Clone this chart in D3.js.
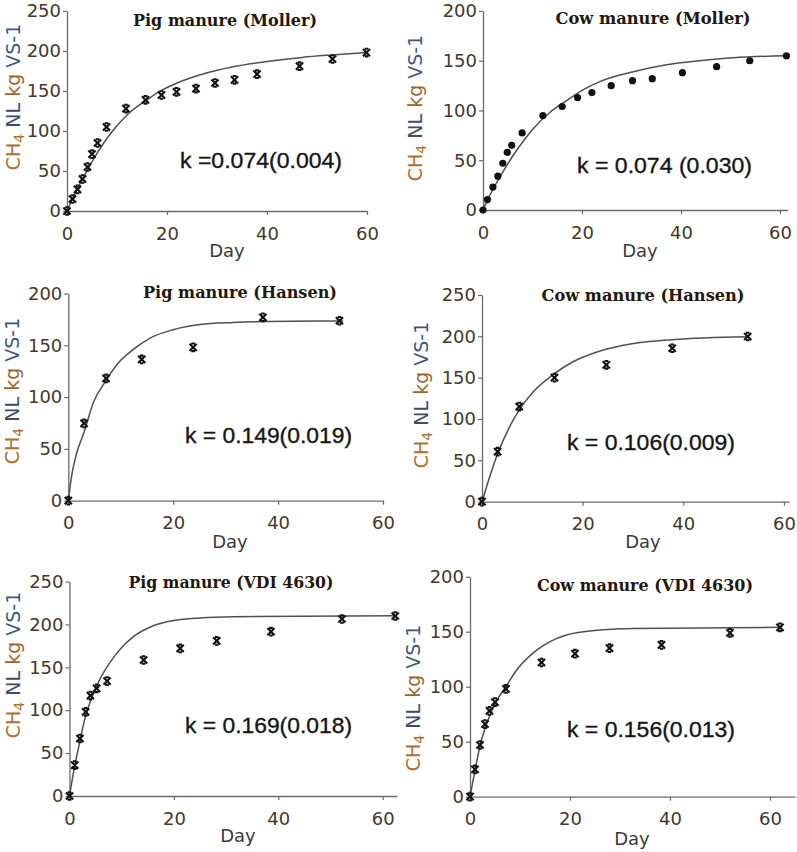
<!DOCTYPE html>
<html>
<head>
<meta charset="utf-8">
<script src="https://cdn.jsdelivr.net/npm/d3@7"></script>
<style>
  html, body { margin: 0; padding: 0; background: #fff; }
  svg { display: block; }
</style>
</head>
<body>
<svg id="chart" width="797" height="852"></svg>
<script>
// ---------------- DATA ----------------
const panelTitles = ["Pig manure (Moller)", "Cow manure (Moller)", "Pig manure (Hansen)",
                     "Cow manure (Hansen)", "Pig manure (VDI 4630)", "Cow manure (VDI 4630)"];
const kLabels = ["k =0.074(0.004)", "k = 0.074 (0.030)", "k = 0.149(0.019)",
                 "k = 0.106(0.009)", "k = 0.169(0.018)", "k = 0.156(0.013)"];
const xTickValues = [0, 20, 40, 60];
const yTicks250 = [0, 50, 100, 150, 200, 250];
const yTicks200 = [0, 50, 100, 150, 200];

// Pig manure (Moller)
const pigMollerDay = [0, 1.1, 2.1, 3.1, 4.1, 5.0, 6.1, 7.9, 11.8, 15.7, 18.9, 21.9, 25.8, 29.6, 33.5, 38, 46.5, 53.1, 59.9];
const pigMollerCH4 = [0, 15, 27, 40, 55, 71, 85, 105, 128, 139, 145, 149, 153, 160, 164, 171, 181, 190, 198];
const pigMollerFitDay = [0, 1, 3, 6, 8, 12, 16, 19, 22, 27, 33, 40, 47, 53, 60];
const pigMollerFitCH4 = [0, 14, 39, 72, 91, 120, 139, 151, 160, 171, 180, 187, 192, 195, 198];

// Cow manure (Moller)
const cowMollerDay = [0, 0.9, 2.0, 3.0, 4.0, 4.9, 5.8, 7.9, 12.1, 16.0, 19.1, 22.0, 25.9, 30.2, 34.2, 40.3, 47.2, 53.9, 61.3];
const cowMollerCH4 = [0, 10.5, 23, 34, 47, 58, 65, 77.5, 95, 104, 113, 118, 125, 130, 132, 138, 144, 150, 155];
const cowMollerFitDay = [0, 1, 3.4, 6.8, 10.2, 13.5, 16.9, 20.3, 23.6, 30.4, 37.1, 43.8, 50.6, 61.3];
const cowMollerFitCH4 = [0, 11, 33, 60, 82, 98, 110, 121, 129, 139, 146, 150, 153, 155];

// Pig manure (Hansen)
const pigHansenDay = [0, 3.0, 7.2, 14.0, 23.8, 37.1, 51.7];
const pigHansenCH4 = [0, 74.6, 118, 136.4, 148, 177, 173.7];
const pigHansenFitDay = [0, 0.6, 1.6, 3.0, 4.8, 7.2, 9.2, 12.4, 15.6, 20, 25.1, 31.4, 37.8, 52.4];
const pigHansenFitCH4 = [0, 23, 46, 66, 95, 116, 131, 146, 157, 165, 170, 172, 173, 173.5];

// Cow manure (Hansen)
const cowHansenDay = [0, 3.1, 7.4, 14.4, 24.7, 37.8, 52.8];
const cowHansenCH4 = [0, 60.5, 115, 150, 165.5, 185.6, 199.8];
const cowHansenFitDay = [0, 1, 3.1, 5.6, 7.4, 10.2, 14.4, 18, 23.3, 29.8, 37.8, 52.8];
const cowHansenFitCH4 = [0, 20, 58, 92, 111, 133, 155, 169, 182, 191, 196, 199.5];

// Pig manure (VDI 4630)
const pigVdiDay = [0, 1.0, 2.0, 3.1, 4.0, 5.2, 7.2, 14.2, 21.2, 28.2, 38.6, 52.2, 62.4];
const pigVdiCH4 = [0, 36, 67, 98, 117, 125.5, 134, 158.5, 172, 180.7, 191.5, 206.3, 209.8];
const pigVdiFitDay = [0, 1, 2, 3.1, 4.3, 5.9, 7.8, 9.7, 12.3, 15.5, 18.7, 25, 31.4, 62.4];
const pigVdiFitCH4 = [0, 35, 64, 94, 115, 137, 156, 171, 186, 197, 203, 207.5, 209, 210];

// Cow manure (VDI 4630)
const cowVdiDay = [0, 1.0, 2.0, 3.0, 3.9, 5.0, 7.2, 14.3, 21, 27.9, 38.3, 52, 62];
const cowVdiCH4 = [0, 24.8, 47, 66, 78, 86, 98, 122, 130, 135, 138, 149, 154];
const cowVdiFitDay = [0, 1, 2, 3.3, 5.3, 7.3, 9.3, 12.7, 16, 19.3, 26, 32.7, 62];
const cowVdiFitCH4 = [0, 24, 46, 66, 87, 101, 115, 131, 141, 147, 151.5, 153, 154];

// ---------------- LAYOUT ----------------
const panels = [
  { title: panelTitles[0], k: kLabels[0], day: pigMollerDay, ch4: pigMollerCH4, fd: pigMollerFitDay, fc: pigMollerFitCH4,
    xd: [0, 60], xr: [67, 367], yd: [0, 250], yr: [211, 11], yt: yTicks250, marker: "x",
    tx: 225, tw: 184, ty: 26, kx: 180, kw: 162, ky: 168, dx: 227, dy: 257, lx: 20, ly: 97 },
  { title: panelTitles[1], k: kLabels[1], day: cowMollerDay, ch4: cowMollerCH4, fd: cowMollerFitDay, fc: cowMollerFitCH4,
    xd: [0, 61.5], xr: [483, 787.4], yd: [0, 200], yr: [210, 11], yt: yTicks200, marker: "dot",
    tx: 653, tw: 195, ty: 24, kx: 577, kw: 175, ky: 173, dx: 640, dy: 257, lx: 422, ly: 108 },
  { title: panelTitles[2], k: kLabels[2], day: pigHansenDay, ch4: pigHansenCH4, fd: pigHansenFitDay, fc: pigHansenFitCH4,
    xd: [0, 60], xr: [68.3, 383], yd: [0, 200], yr: [500.7, 293.5], yt: yTicks200, marker: "x",
    tx: 240, tw: 194, ty: 298, kx: 185, kw: 167, ky: 443, dx: 230, dy: 548, lx: 19, ly: 391 },
  { title: panelTitles[3], k: kLabels[3], day: cowHansenDay, ch4: cowHansenCH4, fd: cowHansenFitDay, fc: cowHansenFitCH4,
    xd: [0, 61], xr: [482, 789], yd: [0, 250], yr: [501.7, 295], yt: yTicks250, marker: "x",
    tx: 643, tw: 203, ty: 301, kx: 567, kw: 168, ky: 450, dx: 643, dy: 548, lx: 428, ly: 395 },
  { title: panelTitles[4], k: kLabels[4], day: pigVdiDay, ch4: pigVdiCH4, fd: pigVdiFitDay, fc: pigVdiFitCH4,
    xd: [0, 62.7], xr: [69.5, 396.8], yd: [0, 250], yr: [796, 581.5], yt: yTicks250, marker: "x",
    tx: 231, tw: 205, ty: 588, kx: 185, kw: 167, ky: 733, dx: 238, dy: 842, lx: 20, ly: 665 },
  { title: panelTitles[5], k: kLabels[5], day: cowVdiDay, ch4: cowVdiCH4, fd: cowVdiFitDay, fc: cowVdiFitCH4,
    xd: [0, 65], xr: [470, 795], yd: [0, 200], yr: [796.7, 576.7], yt: yTicks200, marker: "x",
    tx: 645, tw: 216, ty: 591, kx: 567, kw: 168, ky: 737, dx: 632, dy: 845, lx: 420, ly: 698 }
];

const svg = d3.select("#chart");
const tickColor = "#43382b";
const axisColor = "#6a6a6a";
const xMarkPath = "M-3.6,-3.6L3.6,3.6M-3.6,3.6L3.6,-3.6M-1.8,-3.8L1.8,-3.8M-1.8,3.8L1.8,3.8";

panels.forEach(p => {
  const g = svg.append("g");
  const x = d3.scaleLinear().domain(p.xd).range(p.xr);
  const y = d3.scaleLinear().domain(p.yd).range(p.yr);

  // axes
  const yAxis = d3.axisLeft(y).tickValues(p.yt).tickSize(4).tickSizeOuter(0).tickPadding(2);
  const xAxis = d3.axisBottom(x).tickValues(xTickValues).tickSize(4).tickSizeOuter(0).tickPadding(12);

  const gy = g.append("g").attr("transform", `translate(${p.xr[0]},0)`).call(yAxis);
  const gx = g.append("g").attr("transform", `translate(0,${p.yr[0]})`).call(xAxis);
  [gx, gy].forEach(a => {
    a.select(".domain").attr("stroke", axisColor).attr("stroke-width", 1.3);
    a.selectAll(".tick line").attr("stroke", axisColor).attr("stroke-width", 1.2);
    a.selectAll(".tick text")
      .attr("fill", tickColor)
      .style("font-family", "'DejaVu Sans', Verdana, sans-serif")
      .style("font-size", "18px");
  });

  // fitted curve
  const fit = p.fd.map((d, i) => [d, p.fc[i]]);
  g.append("path")
    .datum(fit)
    .attr("fill", "none")
    .attr("stroke", "#505050")
    .attr("stroke-width", 1.5)
    .attr("d", d3.line().x(d => x(d[0])).y(d => y(d[1])).curve(d3.curveMonotoneX));

  // observed points
  const pts = p.day.map((d, i) => [d, p.ch4[i]]);
  if (p.marker === "dot") {
    g.selectAll("circle.pt").data(pts).join("circle")
      .attr("class", "pt")
      .attr("cx", d => x(d[0])).attr("cy", d => y(d[1]))
      .attr("r", 3.6).attr("fill", "#111");
  } else {
    g.selectAll("path.pt").data(pts).join("path")
      .attr("class", "pt")
      .attr("transform", d => `translate(${x(d[0])},${y(d[1])})`)
      .attr("d", xMarkPath)
      .attr("fill", "none").attr("stroke", "#111").attr("stroke-width", 2.1);
  }

  // title
  g.append("text")
    .attr("x", p.tx).attr("y", p.ty)
    .attr("text-anchor", "middle")
    .attr("textLength", p.tw).attr("lengthAdjust", "spacingAndGlyphs")
    .attr("fill", "#22170c")
    .style("font-family", "'DejaVu Serif', 'Liberation Serif', serif")
    .style("font-weight", "bold")
    .style("font-size", "16.5px")
    .text(p.title);

  // k annotation
  g.append("text")
    .attr("x", p.kx).attr("y", p.ky)
    .attr("textLength", p.kw).attr("lengthAdjust", "spacingAndGlyphs")
    .attr("fill", "#151515")
    .attr("stroke", "#151515").attr("stroke-width", 0.35)
    .style("font-family", "'Liberation Sans', Arial, sans-serif")
    .style("font-size", "22px")
    .text(p.k);

  // x label
  g.append("text")
    .attr("x", p.dx).attr("y", p.dy)
    .attr("text-anchor", "middle")
    .attr("fill", "#3a3a3a")
    .style("font-family", "'DejaVu Sans', Verdana, sans-serif")
    .style("font-size", "18px")
    .text("Day");

  // y label
  const yl = g.append("text")
    .attr("transform", `translate(${p.lx},${p.ly}) rotate(-90)`)
    .attr("text-anchor", "middle")
    .style("font-family", "'DejaVu Sans', Verdana, sans-serif")
    .style("font-size", "19px");
  yl.append("tspan").attr("fill", "#b0702e").text("CH");
  yl.append("tspan").attr("fill", "#b0702e").attr("dy", 4).style("font-size", "14px").text("4");
  yl.append("tspan").attr("fill", "#3e4d6b").attr("dy", -4).text(" NL");
  yl.append("tspan").attr("fill", "#9a6630").text(" kg");
  yl.append("tspan").attr("fill", "#3f5680").text(" VS-1");
});
</script>
</body>
</html>
